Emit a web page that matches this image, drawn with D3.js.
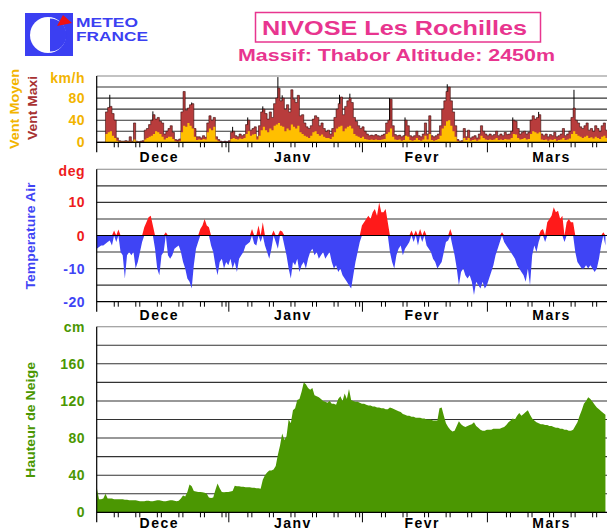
<!DOCTYPE html>
<html><head><meta charset="utf-8">
<script src="https://cdn.jsdelivr.net/npm/d3@7"></script>
<style>
html,body{margin:0;padding:0;background:#fff;}
svg{display:block;font-family:"Liberation Sans",Arial,Helvetica,sans-serif;font-weight:bold;}
</style></head><body>
<svg id="chart" width="607" height="531"></svg>
<script>
// Nivose station Les Rochilles, winter 2003-2004.
// Every series is sampled twice a day (00h and 12h) starting on 1 December.
const seriesStart = new Date(2003, 11, 1);
const seriesEnd = new Date(2004, 2, 29);
const stepDays = 0.5;

// wind, km/h
const windMax = [
  0,0,0,0,0,55,63,65,52,40, 8,3,2,2,3,2,10,2,35,2,
  1,2,3,22,25,32,40,50,42,45, 38,35,15,20,25,30,18,5,4,6,
  55,92,58,62,68,70,25,10,10,8, 12,9,35,48,40,45,10,5,2,1,
  2,1,3,18,20,12,10,15,12,14, 32,40,22,25,28,10,30,55,60,52,
  42,55,45,70,80,98,75,80,60,68, 55,95,78,72,85,48,50,35,28,25,
  30,42,48,45,30,35,25,20,22,15, 25,45,60,70,82,50,65,75,80,72,
  45,38,30,25,28,20,15,12,13,12, 14,12,11,13,15,35,40,78,30,14,
  12,13,10,12,40,30,12,10,12,20, 12,10,15,35,15,48,12,10,12,15,
  30,60,75,92,100,75,55,30,5,2, 3,25,10,22,8,10,12,8,15,30,
  20,15,12,15,12,14,20,12,15,12, 18,14,15,20,40,38,25,15,18,20,
  15,18,40,48,42,45,50,15,12,15, 10,14,12,18,10,12,15,25,12,15,
  20,45,62,40,35,28,25,30,35,22, 25,20,30,25,20,30,35,22
];
const windMean = [
  0,0,0,0,0,15,18,20,12,8, 3,1,1,1,1,1,1,1,5,1,
  0.5,0.5,0.5,5,8,10,12,15,20,18, 15,10,5,8,10,10,6,2,1,2,
  18,30,28,35,30,25,10,4,5,4, 6,5,18,25,22,28,5,2,0.5,0.5,
  0.5,0.5,0.5,6,8,6,5,7,6,8, 15,20,12,14,15,5,12,22,28,22,
  18,25,22,30,32,35,30,28,20,25, 22,32,28,25,30,18,15,12,10,8,
  12,18,20,15,12,14,10,8,8,6, 10,18,25,28,30,20,25,28,30,25,
  15,12,10,8,10,6,5,4,5,4, 5,4,4,5,6,15,18,25,10,5,
  4,5,3,4,12,10,4,3,4,8, 4,3,5,12,5,15,4,3,4,6,
  12,25,30,38,40,30,20,10,2,1, 1,8,4,8,3,4,5,3,5,12,
  8,5,4,5,4,5,8,4,5,4, 6,5,5,8,15,14,8,5,6,8,
  5,6,15,20,18,16,18,5,4,5, 3,5,4,6,3,4,5,8,4,5,
  7,15,20,15,12,10,8,10,12,8, 9,7,10,8,6,10,12,8
];
// strongest gusts (days after 1 December, km/h)
const gustDays = [3.5, 13.5, 22.5, 32, 35.5, 39, 42.5, 43.5, 56.8, 59.2, 68.4, 72, 81.8, 97, 103, 111.2];
const gustValues = [86, 56, 72, 28, 45, 65, 118, 85, 86, 88, 80, 45, 105, 45, 55, 95];

// air temperature, deg C
const temperature = [
  -4,-4,-3.5,-3,-3,-2.5,-2,-1.5,-3,1.5, -2,1.8,-5,-6,-13,-6,-5,-6,-5,-10,
  -8,-5,-2,2.5,4,5.5,6,3,-4,-10, -12,-6,-5,1,-6,-7,-6,-4,-3.5,-3,
  -5,-8,-10,-13,-14,-16,-9,-4,-2,2, 3,5,3,2.5,-3,-5,-9,-12,-8,-7,
  -10,-8,-9,-7,-10,-8,-11,-7,-6,-5, -3,-2.5,-2,2,-2.5,-3,3,-2,4,-3,
  -5,-7,-4,1.5,-2,-4,1.5,1.2,-3,-6, -10,-13,-8,-9,-7,-11,-9,-8,-10,-7,
  -5,-4,-6,-5,-7,-6,-5,-7,-6,-5, -8,-10,-9,-11,-10,-12,-13,-14,-15,-16,
  -12,-8,-5,-2,3,4,5,6,5,7, 8,6,10,7,7,8,4,-5,-8,-10,
  -6,-4,-3,-6,-4,-3,-2,1.5,-2,1.5, -3,2,-2,1.5,-3,-4,-5,-7,-8,-10,
  -9,-8,-5,-2,-1.5,2,-3,-6,-10,-15, -11,-10,-12,-13,-12,-14,-18,-14,-15,-16,
  -14,-16,-15,-13,-11,-9,-6,-4,-2,1, -2,-3,-4,-5,-6,-7,-9,-10,-11,-12,
  -14,-10,-15,-6,-3,-5,-2,1.5,2,-2, 4,5,6,8.5,7,7.5,5,6,-2,4,
  5,4,4,-5,-8,-9,-10,-10,-9,-10, -9,-10,-11,-10,-7,-3,1,-3
];

// snow depth, cm
const snowDepth = [
  27,26,14,14,15,20,15,15,15,14, 14,14,14,14,13.5,13.5,13,13,13,13,
  12.5,12,12,12,12.5,12.5,12,12,12.5,13, 13,12.5,12,12,12.5,13,13,12.5,12,12.5,
  15,18,17,22,30,28,23,22.5,22,22, 21.5,21,20,16,15.5,16,24,31,26,22,
  21.5,22,22,22.5,23,28.5,28,28,27.5,27.5, 27,27,27,26.5,26.5,26,26,25.5,35,40,
  43,45,45,46,50,62,72,85,78,82, 100,96,110,112,121,122,130,140,138,134,
  132,134,126,125,124,122,120,119,118,120, 117,117,116,122,125,120,128,122,133,121,
  120,119,119,118,117,117,116,115,115,114, 114,113,113,112,112,111,111,113,112,111,
  110,109,108,106,105,104,104,103,103,102, 102,102,101,101,100,100,100,99,99,99,
  112,113,104,96,92,89,87,88,93,98, 95,93,92,93,94,95,97,93,91,89,
  88,88,89,89,89,90,90,90,90,91, 92,94,97,99,101,100,104,107,104,106,
  108,110,105,101,99,97,96,95,95,94, 94,93,93,92,91,91,90,90,89,89,
  88,88,89,93,97,104,110,117,120,124, 122,119,116,113,111,109,107,105
];

// axes
const monthNames = ["Dece", "Janv", "Fevr", "Mars"];
const monthCentres = [new Date(2003,11,16), new Date(2004,0,16), new Date(2004,1,15), new Date(2004,2,16)];
const monthStarts = [new Date(2004,0,1), new Date(2004,1,1), new Date(2004,2,1)];
const pairDays = [6, 11, 16, 21, 26, 31];
const windGrid = [20, 40, 60, 80, 100, 120];
const windTicks = [0, 40, 80];
const tempGrid = [-15, -10, -5, 5, 10, 15, 20];
const tempTicks = [-20, -10, 0, 10];
const snowGrid = [20, 40, 60, 80, 100, 120, 140, 160, 180, 200];
const snowTicks = [0, 40, 80, 120, 160];

const DAY = 86400000;
const toDate = i => new Date(seriesStart.getTime() + i * stepDays * DAY);
const rows = arr => arr.map((v, i) => ({date: toDate(i), v}));
// closing sample so the last half-day keeps its width
const withEnd = arr => { const r = rows(arr); r.push({date: toDate(arr.length), v: arr[arr.length - 1]}); return r; };

const svg = d3.select("#chart");
const W = 607, left = 96.7;
const x = d3.scaleTime().domain([seriesStart, seriesEnd]).range([94.7, 607.6]);

const yW = d3.scaleLinear().domain([0, 120]).range([142.3, 76]);
const yT = d3.scaleLinear().domain([-20, 20]).range([301.7, 169.3]);
const yS = d3.scaleLinear().domain([0, 200]).range([512.3, 326.7]);

const defs = svg.append("defs");
function clip(id, y0, y1) {
  defs.append("clipPath").attr("id", id).append("rect")
    .attr("x", left).attr("y", y0).attr("width", W - left).attr("height", y1 - y0);
  return `url(#${id})`;
}

function gridLines(y, values, color) {
  svg.append("g").selectAll("line").data(values).join("line")
    .attr("x1", left).attr("x2", W)
    .attr("y1", d => y(d)).attr("y2", d => y(d))
    .attr("stroke", color).attr("stroke-width", 1.1);
}

function xAxis(yBase, labelY) {
  const g = svg.append("g");
  g.append("line").attr("x1", left).attr("x2", W).attr("y1", yBase).attr("y2", yBase)
    .attr("stroke", "#000").attr("stroke-width", 1.2);
  // month boundaries
  const ax = d3.axisBottom(x).tickValues(monthStarts).tickSize(10).tickFormat("");
  const a = g.append("g").attr("transform", `translate(0,${yBase})`).call(ax);
  a.select(".domain").remove();
  a.selectAll("text").remove();
  a.selectAll("line").attr("stroke", "#000").attr("stroke-width", 1);
  // paired marks every five days
  const pairs = [];
  d3.timeMonth.range(new Date(2003,11,1), seriesEnd).forEach(m => {
    pairDays.forEach(d => {
      const dt = new Date(m.getFullYear(), m.getMonth(), d);
      if (dt.getMonth() === m.getMonth() && x(dt) > left + 3 && x(dt) < W) pairs.push(x(dt));
    });
  });
  g.selectAll("line.p").data(pairs.flatMap(p => [p - 2, p + 2])).join("line")
    .attr("class", "p").attr("x1", d => d).attr("x2", d => d)
    .attr("y1", yBase).attr("y2", yBase + 5).attr("stroke", "#000").attr("stroke-width", 1);
  g.selectAll("text.month").data(monthNames).join("text")
    .attr("class", "month")
    .attr("x", (d, i) => x(monthCentres[i])).attr("y", labelY)
    .attr("text-anchor", "middle").attr("font-size", 14).attr("letter-spacing", 1.5)
    .attr("fill", "#000").text(d => d);
}

function leftAxis(y0, y1) {
  svg.append("line").attr("x1", left).attr("x2", left).attr("y1", y0).attr("y2", y1 + 10)
    .attr("stroke", "#000").attr("stroke-width", 1.2);
}

function yLabels(y, ticks, colorOf, unit, unitY, unitColor) {
  const g = svg.append("g").attr("font-size", 14);
  g.selectAll("text.tick").data(ticks).join("text").attr("class", "tick")
    .attr("x", 85).attr("y", d => y(d)).attr("dy", "0.36em")
    .attr("text-anchor", "end").attr("letter-spacing", 0.5)
    .attr("fill", d => colorOf(d)).text(d => d);
  g.append("text").attr("x", 85).attr("y", unitY).attr("text-anchor", "end")
    .attr("fill", unitColor).attr("letter-spacing", 0.5).text(unit);
}

function vTitle(text, cx, cy, color, len) {
  svg.append("text").attr("transform", `translate(${cx},${cy}) rotate(-90)`)
    .attr("text-anchor", "middle").attr("dy", "0.36em").attr("font-size", 12)
    .attr("textLength", len).attr("lengthAdjust", "spacingAndGlyphs")
    .attr("fill", color).text(text);
}

// ---------- header ----------
const logo = svg.append("g");
logo.append("rect").attr("x", 25).attr("y", 13).attr("width", 48).attr("height", 43).attr("fill", "#3b3ff2");
logo.append("circle").attr("cx", 48).attr("cy", 35).attr("r", 18).attr("fill", "#fff");
logo.append("path").attr("d", "M50,18.5 A16.5,16.5 0 0 1 50,51.5 Z").attr("fill", "#3b3ff2");
logo.append("path").attr("d", "M57,26 L72,23 L63,15 Z").attr("fill", "#f01010");
logo.append("text").attr("x", 76).attr("y", 27).attr("font-size", 13).attr("fill", "#3b3ff2")
  .attr("textLength", 62).attr("lengthAdjust", "spacingAndGlyphs").text("METEO");
logo.append("text").attr("x", 76).attr("y", 41).attr("font-size", 13).attr("fill", "#3b3ff2")
  .attr("textLength", 72).attr("lengthAdjust", "spacingAndGlyphs").text("FRANCE");

const pink = "#e8358f";
svg.append("rect").attr("x", 255.5).attr("y", 12.5).attr("width", 285).attr("height", 29.5)
  .attr("fill", "none").attr("stroke", pink).attr("stroke-width", 1.5);
svg.append("text").attr("x", 262).attr("y", 35).attr("font-size", 20).attr("fill", pink)
  .attr("textLength", 265).attr("lengthAdjust", "spacingAndGlyphs").text("NIVOSE Les Rochilles");
svg.append("text").attr("x", 238).attr("y", 61).attr("font-size", 17).attr("fill", pink)
  .attr("textLength", 317).attr("lengthAdjust", "spacingAndGlyphs").text("Massif: Thabor Altitude: 2450m");

// ---------- wind ----------
const windYellow = "#ffbf00", windRed = "#b83c3c";
gridLines(yW, windGrid.slice(0, -1), "#333");
gridLines(yW, [120], "#888");
const cW = clip("cw", 76, 142.3);
const gw = svg.append("g").attr("clip-path", cW);
gw.selectAll("line").data(gustDays).join("line")
  .attr("x1", (d) => x(new Date(seriesStart.getTime() + d * DAY)))
  .attr("x2", (d) => x(new Date(seriesStart.getTime() + d * DAY)))
  .attr("y1", yW(0)).attr("y2", (d, i) => yW(gustValues[i]))
  .attr("stroke", "#000").attr("stroke-width", 1);
const stepArea = (y) => d3.area().curve(d3.curveStepAfter).x(d => x(d.date)).y0(y(0)).y1(d => y(d.v));
gw.append("path").datum(withEnd(windMax)).attr("d", stepArea(yW))
  .attr("fill", windRed).attr("stroke", "#3a0c0c").attr("stroke-width", 0.6);
gw.append("path").datum(withEnd(windMean)).attr("d", stepArea(yW)).attr("fill", windYellow);
leftAxis(76, 142.3);
xAxis(142.3, 162);
yLabels(yW, windTicks, () => "#f2b400", "km/h", 83, "#f2b400");
vTitle("Vent Moyen", 15, 109, "#f2b400", 80);
vTitle("Vent Maxi", 33, 108, "#a83232", 64);

// ---------- temperature ----------
gridLines(yT, tempGrid.slice(0, -1), "#333");
gridLines(yT, [20], "#888");
const cT = clip("ct", 169.3, 301.7);
const gt = svg.append("g").attr("clip-path", cT);
const tRows = rows(temperature);
gt.append("path").datum(tRows)
  .attr("d", d3.area().x(d => x(d.date)).y0(yT(0)).y1(d => yT(Math.min(0, d.v))))
  .attr("fill", "#3f44f5");
gt.append("path").datum(tRows)
  .attr("d", d3.area().x(d => x(d.date)).y0(yT(0)).y1(d => yT(Math.max(0, d.v))))
  .attr("fill", "#ff1a1a");
gridLines(yT, [0], "#000");
leftAxis(169.3, 301.7);
xAxis(301.7, 320);
yLabels(yT, tempTicks, d => d >= 0 ? "#ee1c1c" : "#3f44f5", "deg", 176, "#ee1c1c");
vTitle("Temperature Air", 31, 236, "#3f44f5", 107);

// ---------- snow depth ----------
gridLines(yS, snowGrid.slice(0, -1), "#333");
gridLines(yS, [200], "#888");
const cS = clip("cs", 326.7, 512.3);
svg.append("g").attr("clip-path", cS).append("path").datum(rows(snowDepth))
  .attr("d", d3.area().x(d => x(d.date)).y0(yS(0)).y1(d => yS(d.v)))
  .attr("fill", "#4b9702");
leftAxis(326.7, 512.3);
xAxis(512.3, 528);
yLabels(yS, snowTicks, () => "#4b9702", "cm", 332, "#4b9702");
vTitle("Hauteur de Neige", 31, 420, "#4b9702", 116);
</script>
</body></html>
